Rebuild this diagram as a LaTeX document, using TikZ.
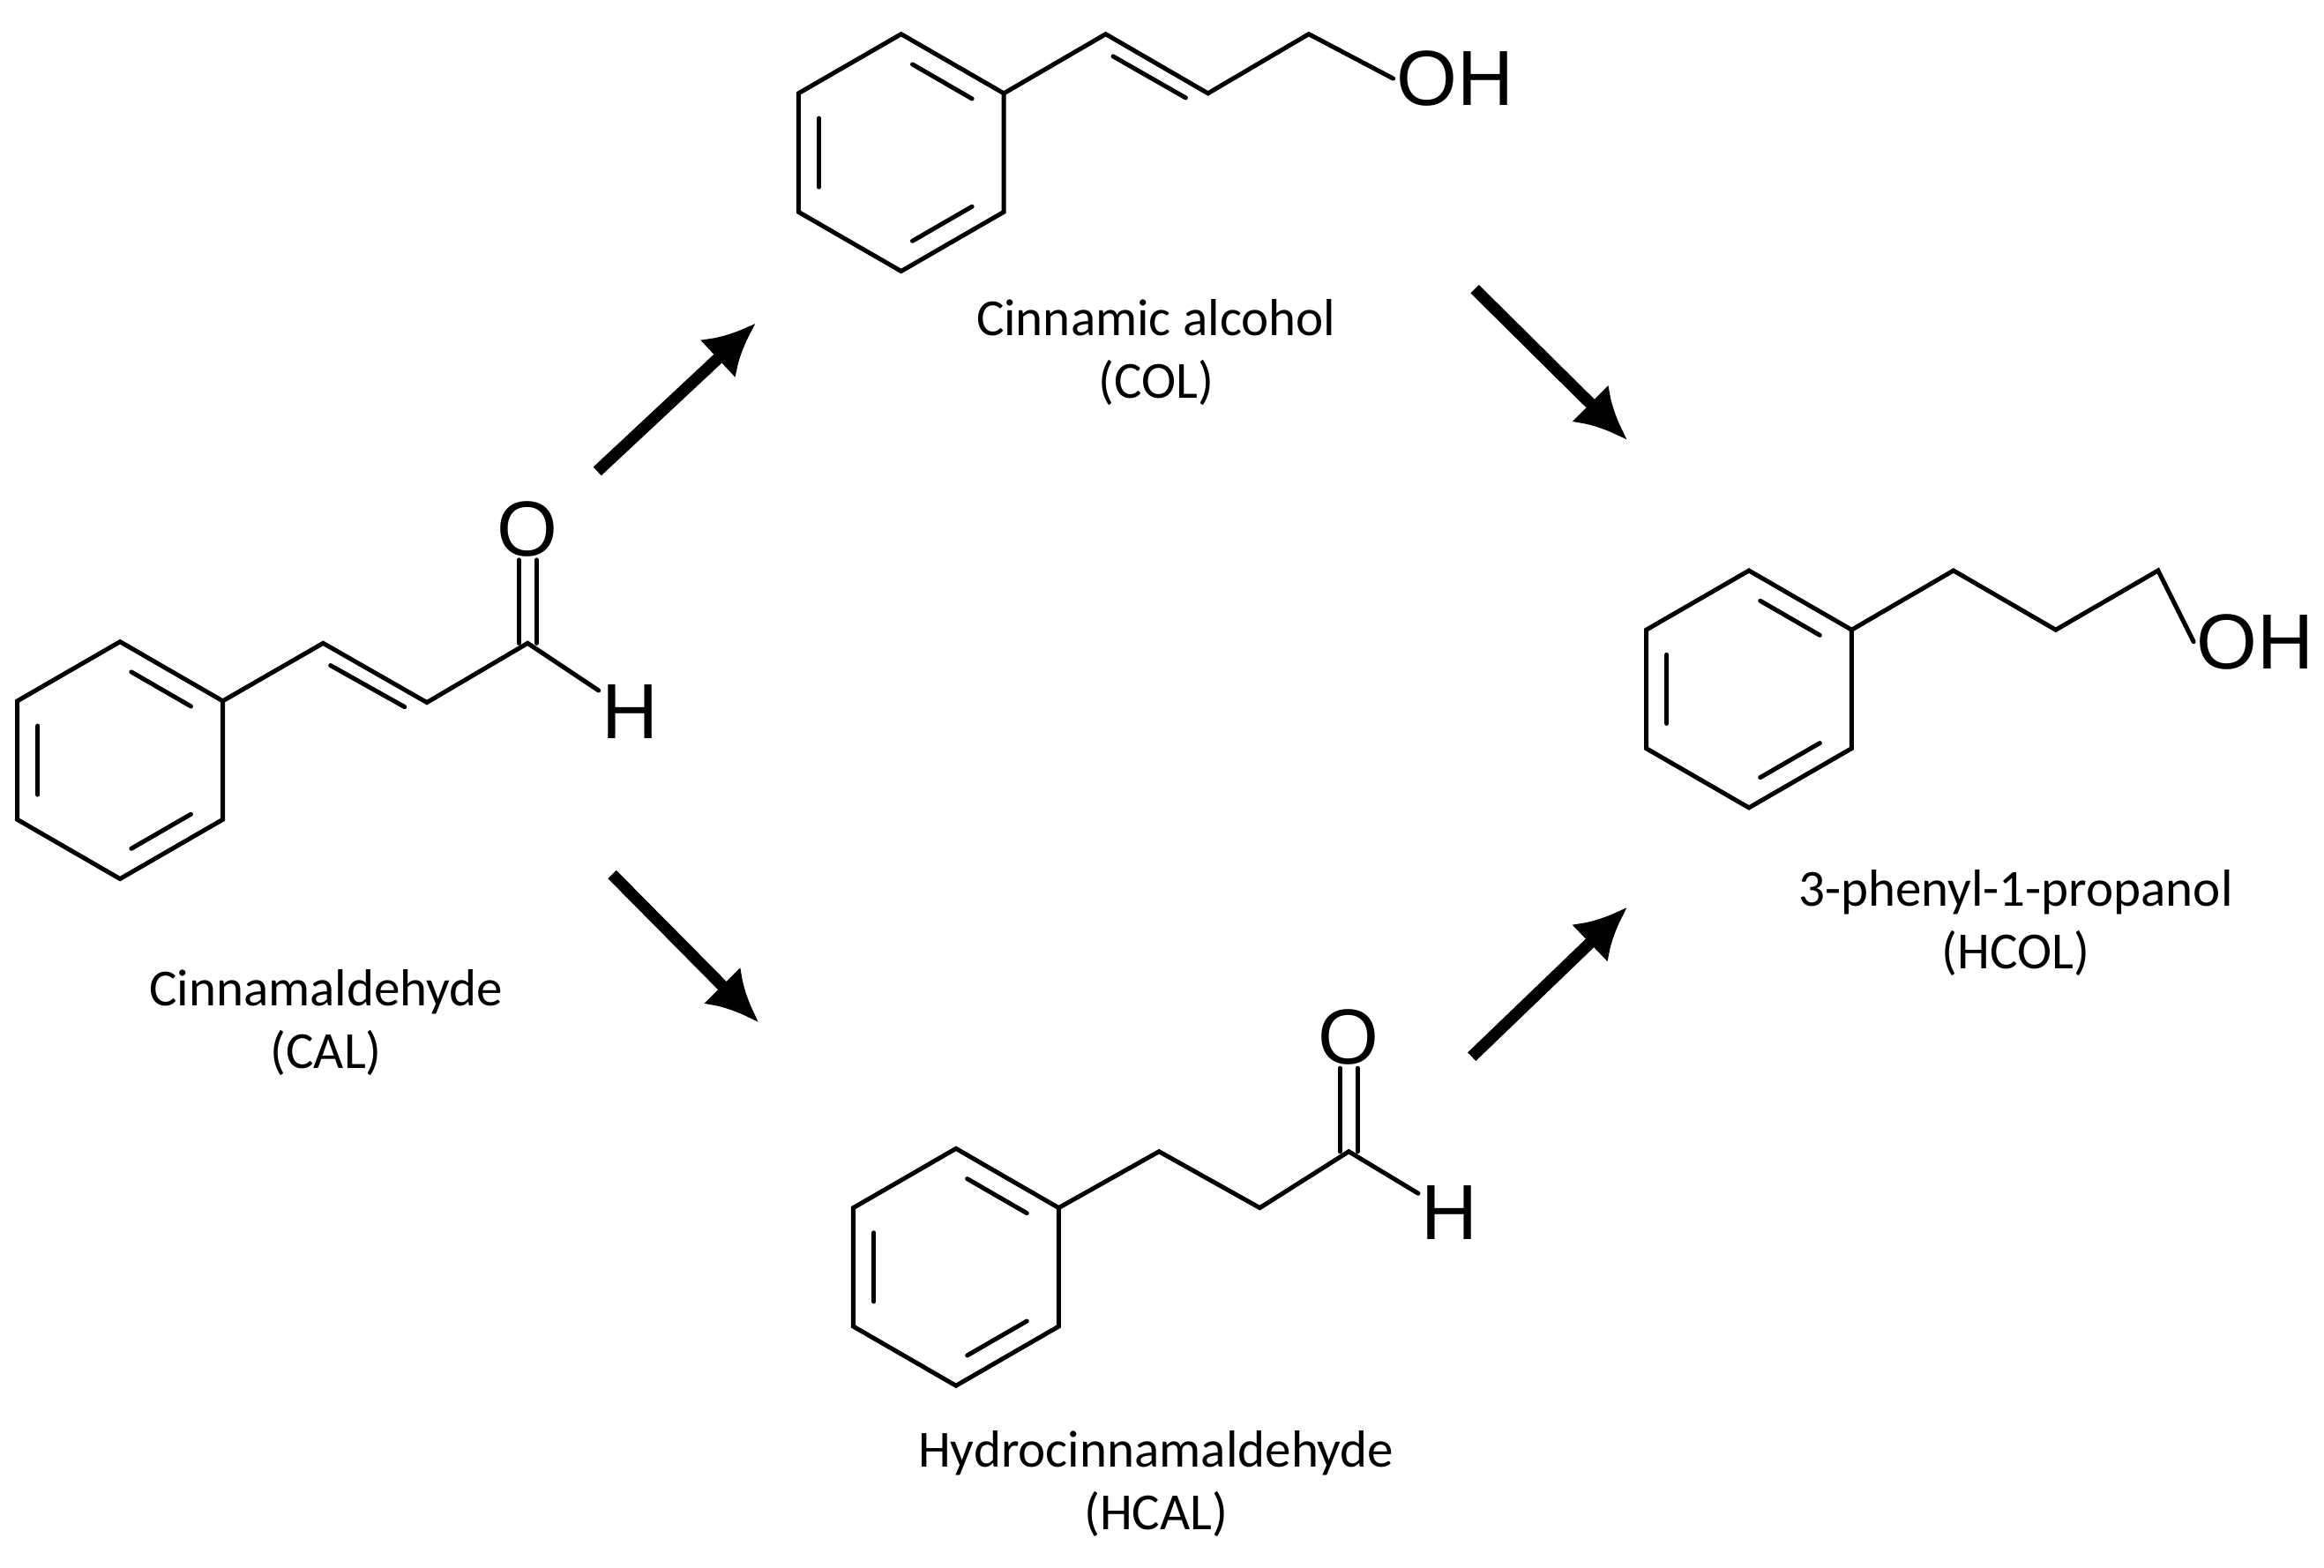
\documentclass[tikz,border=0pt]{standalone}
\usepackage{fontspec}
\setmainfont{Carlito}
\newfontfamily\atomfont{Liberation Sans}
\usetikzlibrary{calc,arrows.meta}
\tikzset{
  bond/.style={line width=1.7pt, line cap=round},
  inner/.style={bond, shorten >=5pt, shorten <=5pt},
  rxn/.style={line width=4.5pt, -{Latex[length=20pt,width=20pt]}},
  atom/.style={font=\atomfont\fontsize{30}{30}\selectfont, inner sep=1pt},
  molname/.style={font=\fontsize{20}{24}\selectfont, align=center}
}
% benzene ring: name, x, y
\newcommand\benzring[3]{
  \coordinate (#1c) at (#2,#3);
  \foreach \a/\n in {90/1,30/2,-30/3,-90/4,-150/5,150/6}
    \coordinate (#1\n) at ({#2+80*cos(\a)},{#3-80*sin(\a)});
  \draw[bond] (#11)--(#12)--(#13)--(#14)--(#15)--(#16)--cycle;
  \draw[inner] ($(#1c)!.8!(#11)$) -- ($(#1c)!.8!(#12)$);
  \draw[inner] ($(#1c)!.8!(#13)$) -- ($(#1c)!.8!(#14)$);
  \draw[inner] ($(#1c)!.8!(#15)$) -- ($(#1c)!.8!(#16)$);
}
\begin{document}
\begin{tikzpicture}[x=0.02cm,y=-0.02cm]
  \useasboundingbox (0,0) rectangle (1568,1058);

  % cinnamaldehyde
  \benzring{cal}{81}{513}
  \coordinate (cal7) at (218,434);
  \coordinate (cal8) at (288,474);
  \coordinate (cal9) at (356,434);
  \node[atom] (calO) at (356,357) {O};
  \node[atom] (calH) at (425,480) {H};
  \draw[bond] (cal2)--(cal7)--(cal8)--(cal9)--(calH);
  \draw[bond] (223,449)--(273,477);
  \draw[bond] ($(cal9)+(6,0)$)--($(calO.south)+(6,0)$) ($(cal9)+(-6,0)$)--($(calO.south)+(-6,0)$);
  \node[molname] (calname) at (220,690) {Cinnamaldehyde\\(CAL)};

  % cinnamic alcohol
  \benzring{col}{608}{103}
  \coordinate (col7) at (746,23);
  \coordinate (col8) at (815,63);
  \coordinate (col9) at (883,23);
  \node[atom, anchor=west] (colOH) at (940,53) {OH};
  \draw[bond] (col2)--(col7)--(col8)--(col9)--(colOH.west);
  \draw[bond] (751,38)--(800,66);
  \node[molname] (colname) at (780,238) {Cinnamic alcohol\\(COL)};

  % hydrocinnamaldehyde
  \benzring{hcal}{645}{855}
  \coordinate (hcal8) at (782,777);
  \coordinate (hcal9) at (850,815);
  \coordinate (hcal10) at (910,777);
  \node[atom] (hcalO) at (910,700) {O};
  \node[atom] (hcalH) at (978,818) {H};
  \draw[bond] (hcal2)--(hcal8)--(hcal9)--(hcal10)--(hcalH);
  \draw[bond] ($(hcal10)+(6,0)$)--($(hcalO.south)+(6,0)$) ($(hcal10)+(-6,0)$)--($(hcalO.south)+(-6,0)$);
  \node[molname] (hcalname) at (780,1001) {Hydrocinnamaldehyde\\(HCAL)};

  % 3-phenyl-1-propanol
  \benzring{hcol}{1180}{465}
  \coordinate (hcol7) at (1318,385);
  \coordinate (hcol8) at (1387,425);
  \coordinate (hcol9) at (1456,385);
  \node[atom, anchor=west] (hcolOH) at (1480,433) {OH};
  \draw[bond] (hcol2)--(hcol7)--(hcol8)--(hcol9)--(hcolOH.west);
  \node[molname] (hcolname) at (1360,623) {3-phenyl-1-propanol\\(HCOL)};

  % reaction steps
  \coordinate (a1) at (403,318); \coordinate (b1) at (510,218);
  \coordinate (a2) at (413,590); \coordinate (b2) at (512,690);
  \coordinate (a3) at (995,195); \coordinate (b3) at (1098,297);
  \coordinate (a4) at (993,713); \coordinate (b4) at (1098,612);
  \draw[rxn] (a1)--(b1);
  \draw[rxn] (a2)--(b2);
  \draw[rxn] (a3)--(b3);
  \draw[rxn] (a4)--(b4);
\end{tikzpicture}
\end{document}
